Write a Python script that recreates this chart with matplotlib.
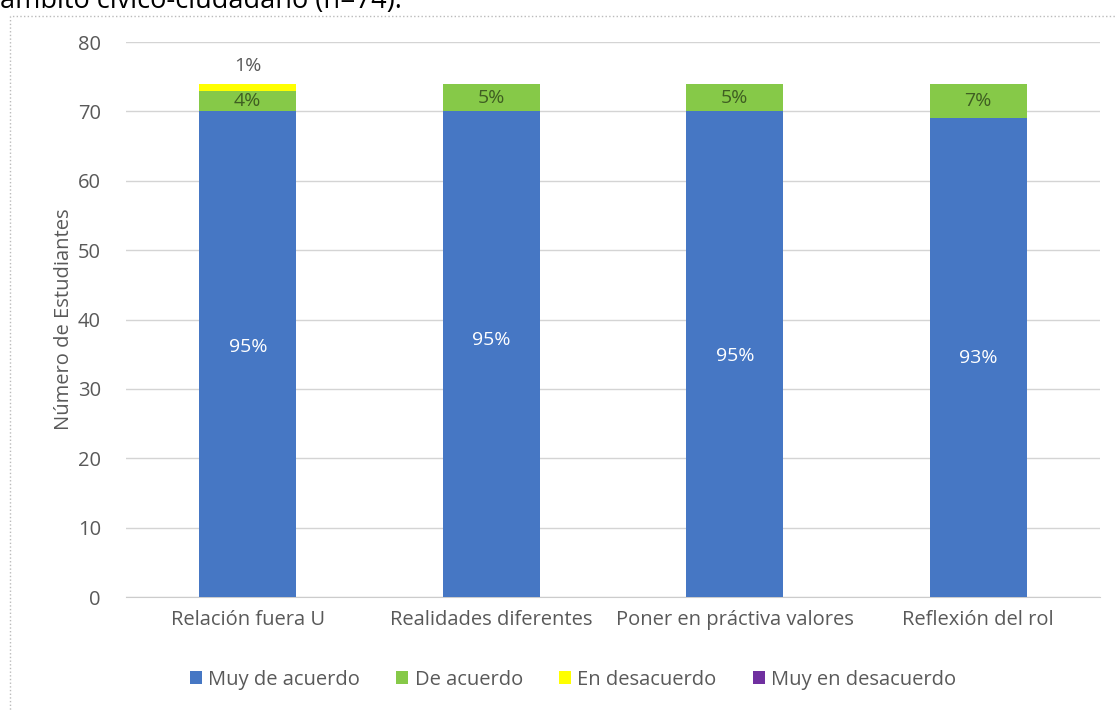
import numpy as np
import matplotlib.pyplot as plt
from matplotlib.patches import Rectangle

plt.rcParams['font.family'] = ['Open Sans', 'DejaVu Sans']

categorias = ["Relación fuera U", "Realidades diferentes", "Poner en práctiva valores", "Reflexión del rol"]
series = ["Muy de acuerdo", "De acuerdo", "En desacuerdo", "Muy en desacuerdo"]
muy_de_acuerdo = [70, 70, 70, 69]
de_acuerdo = [3, 4, 4, 5]
en_desacuerdo = [1, 0, 0, 0]
muy_en_desacuerdo = [0, 0, 0, 0]
pct_muy = ["95%", "95%", "95%", "93%"]
pct_de = ["4%", "5%", "5%", "7%"]
pct_en = ["1%", "", "", ""]

colores = ["#4677c4", "#86c948", "#ffff00", "#7030a0"]
gris = "#595959"
fs = 14.5

fig = plt.figure(figsize=(11.17, 7.11), dpi=100)
ax = fig.add_axes([0.1128, 0.1603, 0.872, 0.7806])

x = np.arange(len(categorias))
datos = [muy_de_acuerdo, de_acuerdo, en_desacuerdo, muy_en_desacuerdo]
base = np.zeros(len(categorias))
for nombre, vals, c in zip(series, datos, colores):
    ax.bar(x, vals, 0.4, bottom=base, color=c, label=nombre, zorder=3)
    base += np.array(vals)

# etiquetas de datos
ajuste = [1.0, 2.0, -0.3, -0.1]
for i in range(len(categorias)):
    ax.text(x[i], muy_de_acuerdo[i] / 2 + ajuste[i], pct_muy[i], ha='center', va='center',
            color='white', fontsize=14, zorder=4)
    ax.text(x[i], muy_de_acuerdo[i] + de_acuerdo[i] / 2, pct_de[i], ha='center', va='center',
            color='#3f5e22', fontsize=14, zorder=4)
    if pct_en[i]:
        top = muy_de_acuerdo[i] + de_acuerdo[i] + en_desacuerdo[i]
        ax.text(x[i], top + 2.6, pct_en[i], ha='center', va='center', color=gris, fontsize=14, zorder=4)

ax.set_xlim(-0.5, 3.5)
ax.set_ylim(0, 80)
ax.set_yticks(range(0, 81, 10))
ax.set_xticks(x)
ax.set_xticklabels(categorias)
ax.tick_params(length=0, colors=gris, labelsize=fs)
ax.tick_params(axis='y', pad=18)
ax.tick_params(axis='x', pad=9)
ax.grid(axis='y', color='#d4d4d4', linewidth=1, zorder=0)
for s in ['top', 'right', 'left']:
    ax.spines[s].set_visible(False)
ax.spines['bottom'].set_color('#cccccc')
ax.set_ylabel("Número de Estudiantes", color=gris, fontsize=fs, labelpad=3)

fig.legend(loc='center', bbox_to_anchor=(0.513, 0.044), ncol=4, frameon=False,
           fontsize=fs, handlelength=0.6, handleheight=0.6, handletextpad=0.3,
           columnspacing=1.8, labelcolor=gris)

# marco punteado del grafico
fig.patches.append(Rectangle((0.009, -0.05), 1.2, 1.027, transform=fig.transFigure, fill=False,
                             edgecolor='#bbbbbb', linestyle=':', linewidth=1))
fig.text(0.0, 0.998, "ámbito cívico-ciudadano (n=74).", ha='left', va='center', fontsize=19.5, color='black')

fig.savefig("out.png", dpi=100)
